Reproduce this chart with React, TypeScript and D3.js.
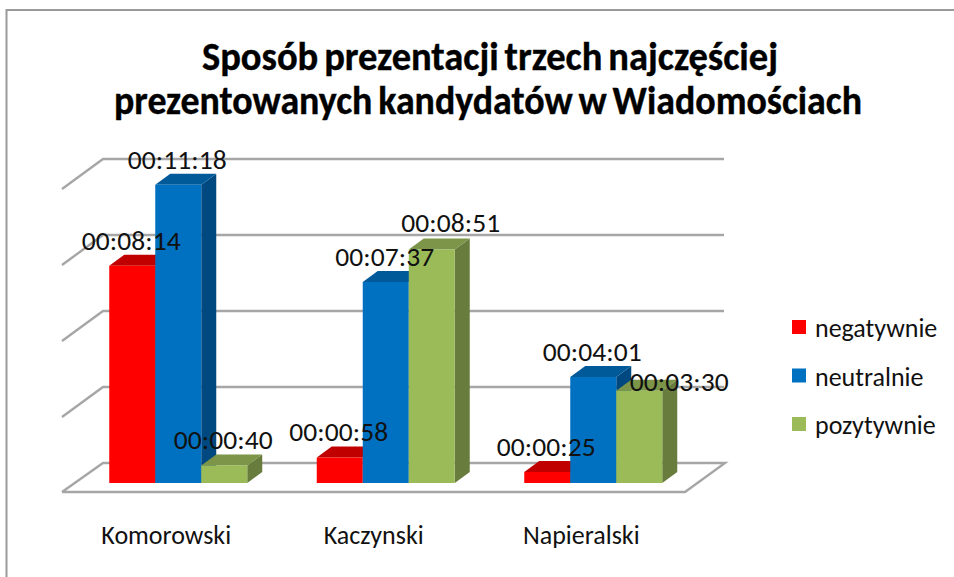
import React from "react";
import * as d3 from "d3";

const titleLines = ["Sposób prezentacji trzech najczęściej", "prezentowanych kandydatów w Wiadomościach"];
const categories = ["Komorowski", "Kaczynski", "Napieralski"];
const seriesNames = ["negatywnie", "neutralnie", "pozytywnie"];
const negatywnie = ["00:08:14", "00:00:58", "00:00:25"];
const neutralnie = ["00:11:18", "00:07:37", "00:04:01"];
const pozytywnie = ["00:00:40", "00:08:51", "00:03:30"];
const seriesValues = [negatywnie, neutralnie, pozytywnie];
const gridTicks = [0, 172.8, 345.6, 518.4, 691.2];

const front = ["#ff0000", "#0070c0", "#9bbb59"];
const top = ["#c00000", "#005a9a", "#7b9548"];
const side = ["#a00000", "#004a80", "#687c3c"];

const FONT = "Carlito, 'Open Sans', 'Noto Sans', sans-serif";
const secs = (t: string) => {
  const [h, m, s] = t.split(":").map(Number);
  return h * 3600 + m * 60 + s;
};

const DX = 15, DY = -11;
const y = d3.scaleLinear().domain([0, 691.2]).range([483, 179]);
const x0 = d3.scaleBand().domain(categories).range([74.5, 697]);
const center = (c: string) => (x0(c) as number) + x0.bandwidth() / 2;
const seriesBand = (c: string) =>
  d3.scaleBand().domain(seriesNames).range([center(c) - 69, center(c) + 69]);
const line = d3.line();

// manual displacement of two hand-moved labels: [series, category, dx, dy]
const labelMoves: [number, number, number, number][] = [
  [2, 1, 20, -1],
  [2, 2, 41, 16],
];

export default function App() {
  return (
    <svg width={954} height={577} style={{ position: "absolute", left: 0, top: 0, background: "#fff" }} fontFamily={FONT}>
      <defs>
        <filter id="soft" x="-5%" y="-5%" width="110%" height="110%">
          <feGaussianBlur stdDeviation="0.45" />
        </filter>
      </defs>
      <path d="M6.5,577V10H954" fill="none" stroke="#9a9a9a" strokeWidth={2} />
      {titleLines.map((t, i) => (
        <text key={t} x={i === 0 ? 490 : 488} y={70 + i * 44} textAnchor="middle" fontSize={41} fontWeight={700} wordSpacing={-3}
          stroke="#000" strokeWidth={0.4} textLength={i === 0 ? 576 : 748} lengthAdjust="spacingAndGlyphs" fill="#000">{t}</text>
      ))}
      <g filter="url(#soft)">
        <path d={line([[62, 492], [103, 463], [725, 463], [685, 492], [62, 492]]) as string} fill="#fff" stroke="#a6a6a6" strokeWidth={2.4} />
        {gridTicks.slice(1).map((v) => {
          const yy = y(v) - 20;
          return (
            <g key={v} fill="none" stroke="#a6a6a6" strokeWidth={2.4}>
              <path d={line([[62, yy + 30], [103, yy], [724, yy]]) as string} />
            </g>
          );
        })}
        {categories.map((c, ci) => {
          const xs = seriesBand(c);
          return seriesNames.map((s, si) => {
            const xl = xs(s) as number;
            const w = xs.bandwidth();
            const yt = y(secs(seriesValues[si][ci]));
            const yb = y(0);
            return (
              <g key={c + s}>
                <path d={line([[xl + w, yt], [xl + w + DX, yt + DY], [xl + w + DX, yb + DY], [xl + w, yb]]) as string + "Z"} fill={side[si]} />
                <path d={line([[xl, yt], [xl + DX, yt + DY], [xl + w + DX, yt + DY], [xl + w, yt]]) as string + "Z"} fill={top[si]} />
                <rect x={xl} y={yt} width={w} height={yb - yt} fill={front[si]} />
              </g>
            );
          });
        })}
      </g>
      {categories.map((c, ci) => {
        const xs = seriesBand(c);
        return seriesNames.map((s, si) => {
          const mv = labelMoves.find((m) => m[0] === si && m[1] === ci);
          const cx = (xs(s) as number) + xs.bandwidth() / 2 + (mv ? mv[2] : 0) - 1;
          const cy = y(secs(seriesValues[si][ci])) + DY - 14 + (mv ? mv[3] : 0) + 9;
          return (
            <text key={c + s} x={cx} y={cy} textAnchor="middle" fontSize={27.5} textLength={99} lengthAdjust="spacing" fill="#111">
              {seriesValues[si][ci]}
            </text>
          );
        });
      })}
      {categories.map((c) => (
        <text key={c} x={center(c) - 12} y={544} textAnchor="middle" fontSize={26} fill="#111">{c}</text>
      ))}
      {seriesNames.map((s, i) => {
        const yy = d3.scalePoint().domain(seriesNames).range([327, 424])(s) as number;
        return (
          <g key={s}>
            <rect x={792} y={yy - 7} width={14} height={14} fill={front[i]} />
            <text x={815} y={yy + 10} fontSize={26} fill="#111">{s}</text>
          </g>
        );
      })}
    </svg>
  );
}
